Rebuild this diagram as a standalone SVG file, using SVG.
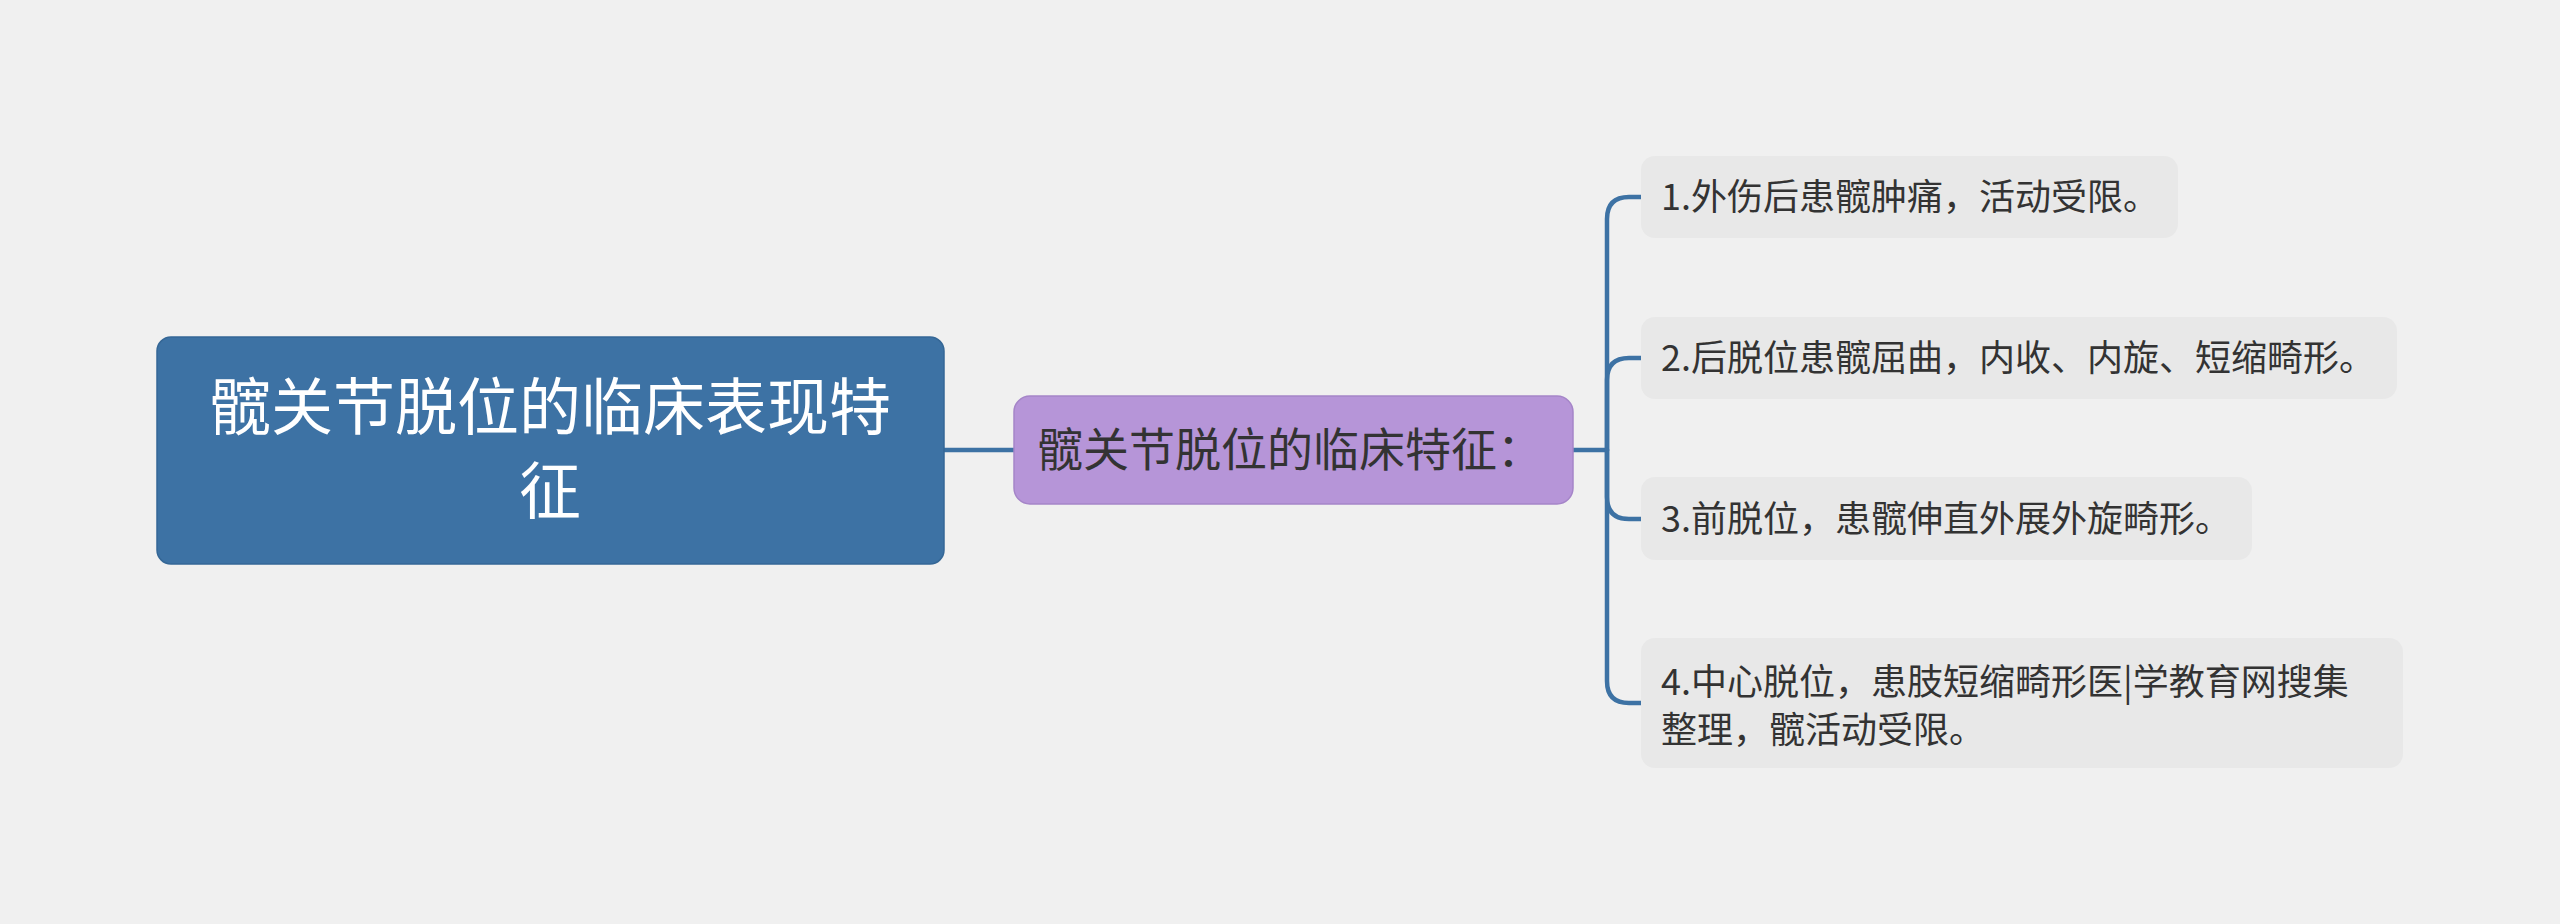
<svg xmlns="http://www.w3.org/2000/svg" width="2560" height="924" viewBox="0 0 2560 924">
<style>
text{font-family:"Noto Sans CJK SC","Noto Sans",sans-serif}
.root{fill:#3d72a4;stroke:#356796;stroke-width:1.5}
.mid{fill:#b695d8;stroke:#a585c8;stroke-width:1.5}
.leaf{fill:#e8e8e8}
.conn{fill:none;stroke:#3d72a4;stroke-width:4.5;stroke-linecap:round}
.tr{fill:#ffffff;font-size:62px}
.tm{fill:#333333;font-size:46px}
.tl{fill:#333333;font-size:36px}
</style>
<rect width="2560" height="924" fill="#f0f0f0"/>
<g id="connectors">
<path class="conn" d="M944,450 H1014"/>
<path class="conn" d="M1572,450 H1607"/>
<path class="conn" d="M1607,450 V219 Q1607,197 1629,197 H1641"/>
<path class="conn" d="M1607,450 V380 Q1607,358 1629,358 H1641"/>
<path class="conn" d="M1607,450 V497 Q1607,519 1629,519 H1641"/>
<path class="conn" d="M1607,450 V681 Q1607,703 1629,703 H1641"/>
</g>
<g id="root">
<rect class="root" x="157" y="337" width="787" height="227" rx="14"/>
<text class="tr" x="550" y="430" text-anchor="middle">髋关节脱位的临床表现特</text>
<text class="tr" x="550" y="514" text-anchor="middle">征</text>
</g>
<g id="mid">
<rect class="mid" x="1014" y="396" width="559" height="108" rx="16"/>
<text class="tm" x="1037" y="466">髋关节脱位的临床特征：</text>
</g>
<g id="leaf1">
<rect class="leaf" x="1641" y="156" width="537" height="82" rx="14"/>
<text class="tl" x="1661" y="210">1.外伤后患髋肿痛，活动受限。</text>
</g>
<g id="leaf2">
<rect class="leaf" x="1641" y="317" width="756" height="82" rx="14"/>
<text class="tl" x="1661" y="371">2.后脱位患髋屈曲，内收、内旋、短缩畸形。</text>
</g>
<g id="leaf3">
<rect class="leaf" x="1641" y="477" width="611" height="83" rx="14"/>
<text class="tl" x="1661" y="532">3.前脱位，患髋伸直外展外旋畸形。</text>
</g>
<g id="leaf4">
<rect class="leaf" x="1641" y="638" width="762" height="130" rx="14"/>
<text class="tl" x="1661" y="695">4.中心脱位，患肢短缩畸形医|学教育网搜集</text>
<text class="tl" x="1661" y="743">整理，髋活动受限。</text>
</g>
</svg>
